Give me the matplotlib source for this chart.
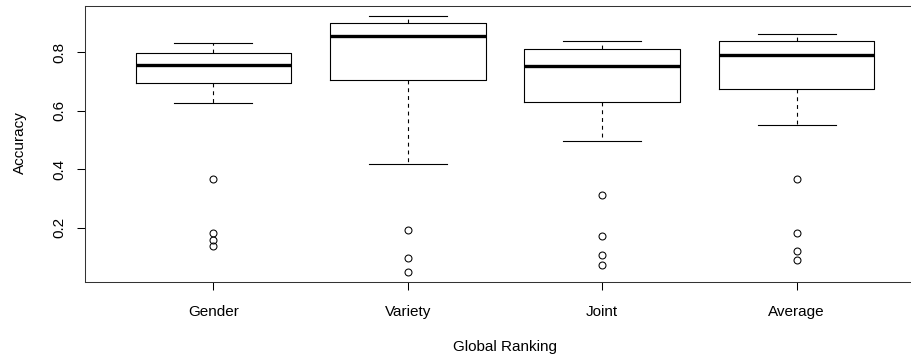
import matplotlib
matplotlib.use("Agg")
import matplotlib.pyplot as plt

# values (R style boxplot)
groups = ["Gender", "Variety", "Joint", "Average"]
whis_hi = [0.829, 0.922, 0.836, 0.863]
q3 = [0.798, 0.899, 0.810, 0.838]
medians = [0.755, 0.855, 0.752, 0.788]
q1 = [0.694, 0.703, 0.630, 0.675]
whis_lo = [0.627, 0.417, 0.497, 0.552]
outliers = [
    [0.368, 0.183, 0.158, 0.138],
    [0.192, 0.096, 0.050],
    [0.311, 0.172, 0.107, 0.073],
    [0.365, 0.183, 0.122, 0.090],
]

plt.rcParams["font.family"] = ["Liberation Sans", "DejaVu Sans"]
FS = 11

W, H = 912, 358
fig = plt.figure(figsize=(W / 100, H / 100), dpi=100)
# plot region in pixels: left 85, right 925 (cut off), top 6, bottom 282
L, R, T, B = 85, 925, 6, 282
ax = fig.add_axes([L / W, (H - B) / H, (R - L) / W, (B - T) / H])

stats = []
for i, g in enumerate(groups):
    stats.append(dict(label=g, med=medians[i], q1=q1[i], q3=q3[i],
                      whislo=whis_lo[i], whishi=whis_hi[i],
                      fliers=outliers[i]))

ax.bxp(stats, positions=range(1, len(groups) + 1), widths=0.8,
       showfliers=True,
       boxprops=dict(color="black", lw=0.8),
       medianprops=dict(color="black", lw=2.4, solid_capstyle="butt"),
       whiskerprops=dict(color="black", lw=0.8, ls=(0, (3.5, 3.5))),
       capprops=dict(color="black", lw=0.8),
       capwidths=0.4,
       flierprops=dict(marker="o", markerfacecolor="none",
                       markeredgecolor="black", markersize=5, mew=0.75))

# R style axis extension (4 %)
lo = min(min(o) for o in outliers)
hi = max(whis_hi)
r = hi - lo
ax.set_ylim(lo - 0.04 * r, hi + 0.04 * r)
ax.set_xlim(0.5 - 0.16, len(groups) + 0.5 + 0.16)

ax.set_yticks([0.2, 0.4, 0.6, 0.8])
ax.set_yticklabels(["0.2", "0.4", "0.6", "0.8"], rotation=90, va="center",
                   fontsize=FS)
ax.set_xticks(range(1, len(groups) + 1))
ax.set_xticklabels(groups, fontsize=FS)
ax.tick_params(axis="both", direction="out", length=5.5, width=0.75,
               color="black")
ax.tick_params(axis="x", pad=11)
ax.tick_params(axis="y", pad=8)

for s in ax.spines.values():
    s.set_linewidth(0.75)
    s.set_color("#333333")

fig.text(20 / W, 1 - 143 / H, "Accuracy", rotation=90, ha="center",
         va="center", fontsize=FS)
fig.text(505 / W, 1 - 346.5 / H, "Global Ranking", ha="center",
         va="center", fontsize=FS)

fig.savefig("out.png", dpi=100)
